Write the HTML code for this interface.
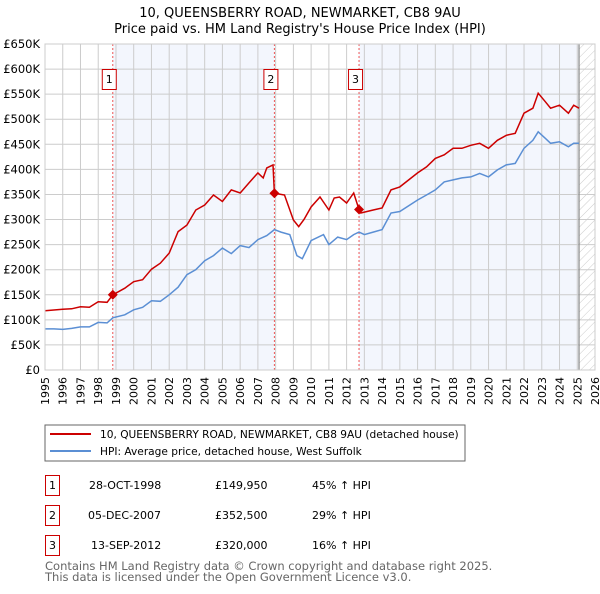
<!DOCTYPE html>
<html><head><meta charset="utf-8"><style>
body{margin:0;background:#fff;font-family:"DejaVu Sans","Liberation Sans",sans-serif;}
svg text{font-family:"DejaVu Sans","Liberation Sans",sans-serif;}
</style></head><body>
<svg id="c" width="600" height="590" xmlns="http://www.w3.org/2000/svg">
<text x="300" y="17" text-anchor="middle" font-size="13" fill="#000">10, QUEENSBERRY ROAD, NEWMARKET, CB8 9AU</text>
<text x="300" y="33" text-anchor="middle" font-size="13" fill="#000">Price paid vs. HM Land Registry's House Price Index (HPI)</text>
<defs><pattern id="hatch" width="6" height="6" patternUnits="userSpaceOnUse" patternTransform="rotate(45)"><line x1="0" y1="0" x2="0" y2="6" stroke="#ccc" stroke-width="1"/></pattern></defs>
<g id="plot"></g>
<g>
<rect x="45" y="425" width="420" height="36" fill="#fff" stroke="#666"/>
<line x1="50" y1="434" x2="91" y2="434" stroke="#cc0000" stroke-width="2"/>
<text x="100" y="438" font-size="10.6">10, QUEENSBERRY ROAD, NEWMARKET, CB8 9AU (detached house)</text>
<line x1="50" y1="451" x2="91" y2="451" stroke="#5b8fd4" stroke-width="2"/>
<text x="100" y="455" font-size="10.6">HPI: Average price, detached house, West Suffolk</text>
</g>
<g font-size="11">
<rect x="45.5" y="475.5" width="14" height="20" fill="#fff" stroke="#cc0000"/><text x="52.5" y="489" text-anchor="middle">1</text>
<text x="89" y="489">28-OCT-1998</text><text x="215" y="489">£149,950</text><text x="312" y="489">45% ↑ HPI</text>
<rect x="45.5" y="505.5" width="14" height="20" fill="#fff" stroke="#cc0000"/><text x="52.5" y="519" text-anchor="middle">2</text>
<text x="88" y="519">05-DEC-2007</text><text x="215" y="519">£352,500</text><text x="312" y="519">29% ↑ HPI</text>
<rect x="45.5" y="535.5" width="14" height="20" fill="#fff" stroke="#cc0000"/><text x="52.5" y="549" text-anchor="middle">3</text>
<text x="91" y="549">13-SEP-2012</text><text x="215" y="549">£320,000</text><text x="312" y="549">16% ↑ HPI</text>
</g>
<text x="45" y="570" font-size="11.5" fill="#666">Contains HM Land Registry data © Crown copyright and database right 2025.</text>
<text x="45" y="581" font-size="11.5" fill="#666">This data is licensed under the Open Government Licence v3.0.</text>
</svg>
<script>
const hpiYears=[1995,1995.5,1996,1996.5,1997,1997.5,1998,1998.5,1998.82,1999.5,2000,2000.5,2001,2001.5,2002,2002.5,2003,2003.5,2004,2004.5,2005,2005.5,2006,2006.5,2007,2007.5,2007.93,2008.3,2008.8,2009.2,2009.5,2010,2010.7,2011,2011.5,2012,2012.4,2012.7,2013,2013.5,2014,2014.5,2015,2016,2016.5,2017,2017.5,2018,2018.5,2019,2019.5,2020,2020.5,2021,2021.5,2022,2022.5,2022.8,2023.2,2023.5,2024,2024.5,2024.8,2025.1];
const hpiValues=[82,82,81,83,86,86,95,94,104,110,120,125,138,137,150,165,190,200,218,228,243,232,248,244,260,268,280,275,270,228,222,258,270,250,265,260,270,275,270,275,280,313,316,339,349,359,375,379,383,385,392,385,399,409,412,442,458,475,462,452,455,445,452,452];
const propYears=[1995,1996,1996.5,1997,1997.5,1998,1998.5,1998.82,1999.5,2000,2000.5,2001,2001.5,2002,2002.5,2003,2003.5,2004,2004.5,2005,2005.5,2006,2006.5,2007,2007.3,2007.5,2007.85,2007.93,2008.5,2009,2009.3,2009.6,2010,2010.5,2011,2011.3,2011.6,2012,2012.4,2012.7,2012.8,2013.5,2014,2014.5,2015,2016,2016.5,2017,2017.5,2018,2018.5,2019,2019.5,2020,2020.5,2021,2021.5,2022,2022.5,2022.8,2023.2,2023.5,2024,2024.5,2024.8,2025.1];
const propValues=[118,121,122,126,125,136,135,150,163,176,180,201,213,233,276,289,319,329,349,336,359,353,373,393,383,403,409,352.5,349,299,286,300,325,345,319,343,345,333,353,320,313,319,323,359,365,393,405,422,429,442,442,448,452,442,458,468,472,512,522,552,535,522,528,512,528,522];
const saleYears=[1998.82,2007.93,2012.7];
const salePrices=[149.95,352.5,320];
const saleLabels=["1","2","3"];
const yTicks=[0,50,100,150,200,250,300,350,400,450,500,550,600,650];
const yTickLabels=["£0","£50K","£100K","£150K","£200K","£250K","£300K","£350K","£400K","£450K","£500K","£550K","£600K","£650K"];
const xTicks=[1995,1996,1997,1998,1999,2000,2001,2002,2003,2004,2005,2006,2007,2008,2009,2010,2011,2012,2013,2014,2015,2016,2017,2018,2019,2020,2021,2022,2023,2024,2025,2026];
const dataEnd=2025.1;

const L=45,R=595,T=44,B=370;
const xs=t=>L+(t-1995)/(2026-1995)*(R-L);
const ys=v=>B-v/650*(B-T);
const NS="http://www.w3.org/2000/svg";
const g=document.getElementById('plot');
function mk(tag,attrs,parent){const e=document.createElementNS(NS,tag);for(const k in attrs)e.setAttribute(k,attrs[k]);(parent||g).appendChild(e);return e;}

let bg=mk('rect',{x:L,y:T,width:R-L,height:B-T,fill:'#fff'});


let s1=mk('rect',{x:xs(saleYears[0]),y:T,width:xs(saleYears[1])-xs(saleYears[0]),height:B-T,fill:'#f3f6fd'});


let s2=mk('rect',{x:xs(saleYears[2]),y:T,width:xs(dataEnd)-xs(saleYears[2]),height:B-T,fill:'#f3f6fd'});


let hz=mk('rect',{x:xs(dataEnd),y:T,width:R-xs(dataEnd),height:B-T,fill:'url(#hatch)'});



xTicks.forEach(t=>{
  let l=mk('line',{x1:xs(t),x2:xs(t),y1:T,y2:B,stroke:'#cccccc','stroke-width':1});
  
  
  let x=xs(t)+4;
  let tx=mk('text',{x:x,y:377,'font-size':11,'text-anchor':'end',transform:`rotate(-90 ${x} 377)`});
  tx.textContent=t;
  
  
});
yTicks.forEach((v,i)=>{
  let l=mk('line',{x1:L,x2:R,y1:ys(v),y2:ys(v),stroke:'#cccccc','stroke-width':1});
  
  
  let tx=mk('text',{x:40,y:ys(v)+4,'font-size':11.5,'text-anchor':'end'});
  tx.textContent=yTickLabels[i];
  
  
});
let el=mk('line',{x1:xs(dataEnd),x2:xs(dataEnd),y1:T,y2:B,stroke:'#888','stroke-width':1.2});



saleYears.forEach((t,i)=>{
  let l=mk('line',{x1:xs(t),x2:xs(t),y1:T,y2:B,stroke:'#ee5555','stroke-width':1,'stroke-dasharray':'2,2'});
  
  
});

let hp=hpiYears.map((t,i)=>xs(t).toFixed(1)+','+ys(hpiValues[i]).toFixed(1)).join(' ');
let hl=mk('polyline',{points:hp,fill:'none',stroke:'#5b8fd4','stroke-width':1.5});


let pp=propYears.map((t,i)=>xs(t).toFixed(1)+','+ys(propValues[i]).toFixed(1)).join(' ');
let pl=mk('polyline',{points:pp,fill:'none',stroke:'#cc0000','stroke-width':1.5});



saleYears.forEach((t,i)=>{
  let x=xs(t),y=ys(salePrices[i]);
  let d=mk('polygon',{points:`${x},${y-5} ${x+5},${y} ${x},${y+5} ${x-5},${y}`,fill:'#cc0000'});
  
  
  let bx=mk('rect',{x:x-10.5,y:69.5,width:14,height:20,fill:'#fff',stroke:'#cc0000'});
  
  
  let tx=mk('text',{x:x-3.5,y:83,'font-size':11,'text-anchor':'middle'});
  tx.textContent=saleLabels[i];
  
  
});
let bd=mk('rect',{x:L,y:T,width:R-L,height:B-T,fill:'none',stroke:'#cccccc'});


</script>
</body></html>
